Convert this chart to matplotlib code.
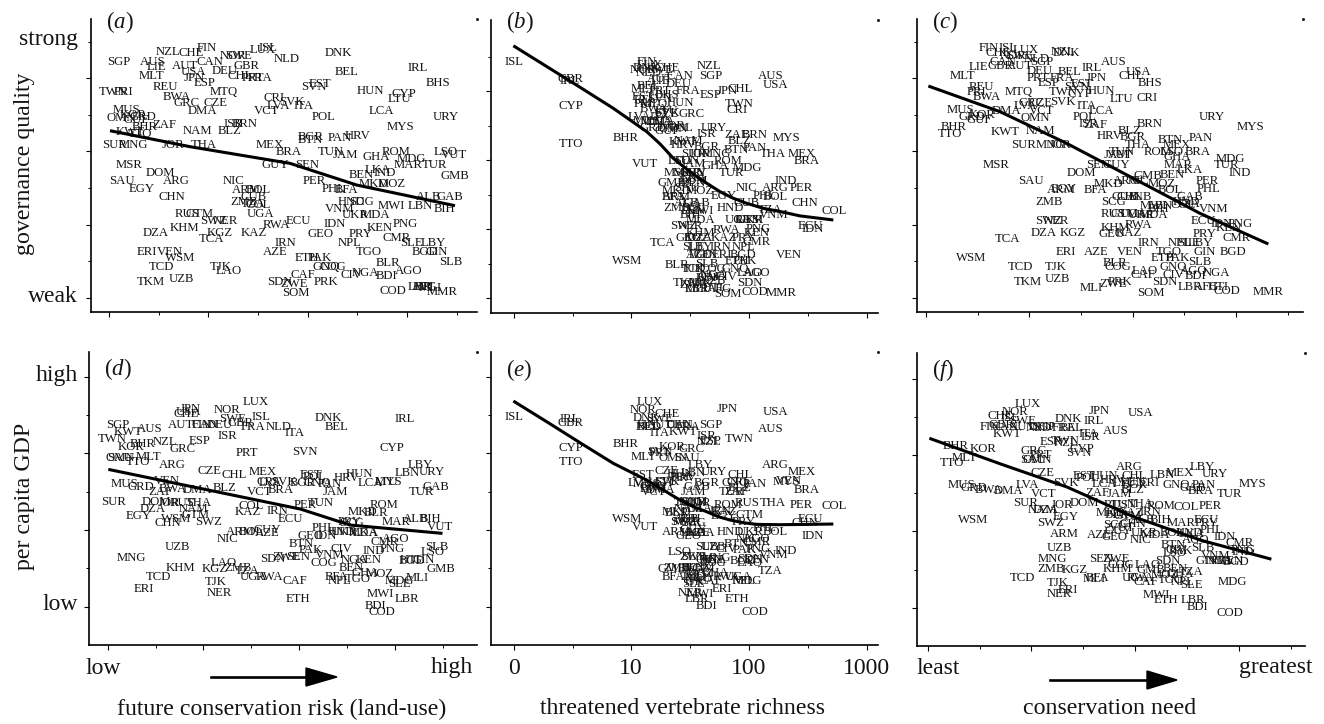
import numpy as np
import matplotlib
matplotlib.use('Agg')
import matplotlib.pyplot as plt
from matplotlib.patches import Polygon

plt.rcParams['font.family'] = ['Liberation Serif', 'DejaVu Serif']
plt.rcParams['mathtext.fontset'] = 'custom'
plt.rcParams['mathtext.rm'] = 'Liberation Serif'
plt.rcParams['mathtext.it'] = 'Liberation Serif:italic'

na = np.nan

# indices; all in arbitrary scale units, one row per country group
iso = ['SGP', 'AUS', 'NZL', 'CHE', 'FIN', 'ISL', 'LUX', 'NOR', 'SWE', 'GBR',
       'NLD', 'DNK', 'CAN', 'AUT', 'LIE', 'MLT', 'USA', 'DEU', 'CHL', 'PRT',
       'FRA', 'JPN', 'ESP', 'BEL', 'IRL', 'BHS', 'EST', 'SVN', 'HUN', 'CYP',
       'LTU', 'TWN', 'PRI', 'REU', 'BWA', 'MTQ', 'GRC', 'CZE', 'DMA', 'CRI',
       'SVK', 'LVA', 'ITA', 'VCT', 'POL', 'LCA', 'URY', 'MYS', 'MUS', 'OMN',
       'GRD', 'KOR', 'GUF', 'ZAF', 'BHR', 'KWT', 'TTO', 'NAM', 'BLZ', 'ISR',
       'BRN', 'PAN', 'BGR', 'BTN', 'HRV', 'SUR', 'MNG', 'JOR', 'THA', 'MEX',
       'BRA', 'TUN', 'JAM', 'GHA', 'ROM', 'LSO', 'VUT', 'MDG', 'MAR', 'TUR',
       'MSR', 'DOM', 'SAU', 'ARG', 'EGY', 'CHN', 'NIC', 'GUY', 'SEN', 'MKD',
       'MOZ', 'LKA', 'IND', 'BEN', 'GMB', 'PER', 'PHL', 'BFA', 'ALB', 'GAB',
       'BIH', 'LBN', 'MWI', 'HND', 'COL', 'SCG', 'ARM', 'BOL', 'ZMB', 'CUB',
       'UGA', 'VNM', 'UKR', 'MDA', 'ECU', 'RWA', 'KAZ', 'IDN', 'PNG', 'KEN',
       'PRY', 'GEO', 'CMR', 'TCA', 'KGZ', 'KHM', 'DZA', 'GTM', 'RUS', 'SWZ',
       'NER', 'IRN', 'NPL', 'TGO', 'SLE', 'LBY', 'BGD', 'GIN', 'AZE', 'ETH',
       'PAK', 'GNQ', 'COG', 'CIV', 'NGA', 'CAF', 'BLR', 'AGO', 'BDI', 'SLB',
       'SDN', 'ZWE', 'PRK', 'SOM', 'COD', 'LBR', 'HTI', 'MLI', 'AFG', 'MMR',
       'ERI', 'VEN', 'WSM', 'TCD', 'TJK', 'LAO', 'TKM', 'UZB', 'TZA']

risk = [30, 131, 178, 246, 293, 478, 461, 373, 388, 413,
        533, 689, 303, 228, 141, 128, 253, 348, 393, 433,
        453, 256, 286, 713, 926, 988, 633, 615, 785, 885,
        870, 13, 43, 169, 203, 343, 233, 318, 279, 495,
        548, 508, 583, 473, 645, 818, 1011, 875, 53, 38,
        103, 73, 83, 165, 108, 63, 93, 266, 363, 373,
        408, 691, 606, 603, 745, 18, 73, 191, 285, 483,
        538, 665, 708, 801, 861, 1011, 1035, 908, 898, 978,
        61, 153, 38, 201, 97, 188, 373, 498, 593, 793,
        848, 805, 828, 758, 1038, 615, 673, 713, 958, 1023,
        1005, 933, 848, 728, 448, 758, 413, 448, 406, 433,
        455, 693, 738, 798, 568, 503, 435, 678, 888, 813,
        755, 633, 863, 308, 333, 226, 141, 273, 233, 313,
        348, 528, 723, 778, 908, 973, 948, 983, 498, 593,
        633, 653, 673, 728, 768, 583, 836, 898, 833, 1025,
        513, 555, 651, 561, 853, 933, 943, 963, 948, 1000,
        113, 183, 213, 158, 336, 360, 125, 218, 433]

richness = [592, 772, 586, 459, 399, 2, 409, 389, 439, 169,
            404, 399, 499, 439, 439, 389, 786, 494, 679, 439,
            524, 641, 592, 404, 169, 459, 389, 439, 499, 171,
            459, 677, 389, 399, 419, 419, 534, 459, 439, 669,
            459, 377, 439, 419, 504, 439, 599, 817, 399, 479,
            419, 474, 459, 669, 337, 509, 171, 524, 679, 579,
            724, 724, 579, 669, 509, 539, 609, 559, 779, 864,
            879, 519, 539, 604, 644, 499, 394, 702, 519, 654,
            489, 539, 519, 784, 629, 874, 699, 539, 539, 489,
            559, 539, 817, 539, 474, 864, 754, 479, 519, 549,
            529, 539, 559, 651, 961, 539, 489, 784, 489, 699,
            674, 779, 709, 559, 889, 639, 629, 896, 734, 729,
            689, 524, 729, 447, 549, 559, 559, 709, 700, 509,
            529, 619, 689, 559, 539, 559, 689, 579, 554, 669,
            694, 664, 599, 639, 599, 589, 489, 729, 579, 579,
            709, 539, 559, 644, 724, 549, 599, 549, 619, 804,
            626, 826, 339, 539, 539, 709, 519, 599, 769]

need = [347, 562, 412, 217, 187, 247, 300, 262, 282, 222,
        332, 420, 232, 282, 157, 110, 637, 342, 617, 337,
        407, 512, 367, 430, 497, 672, 467, 452, 527, 462,
        587, 412, 150, 167, 182, 277, 317, 342, 242, 662,
        412, 297, 482, 347, 477, 527, 857, 972, 102, 327,
        137, 167, 160, 507, 84, 237, 72, 342, 612, 487,
        672, 825, 619, 734, 552, 292, 372, 402, 637, 752,
        815, 587, 572, 754, 697, 737, 582, 912, 757, 902,
        210, 467, 315, 602, 412, 612, 637, 570, 517, 547,
        707, 790, 942, 740, 667, 845, 847, 507, 642, 792,
        697, 702, 682, 782, 772, 562, 407, 732, 370, 597,
        622, 862, 647, 682, 832, 637, 607, 887, 942, 907,
        835, 557, 932, 245, 440, 567, 354, 597, 562, 367,
        392, 667, 762, 727, 787, 822, 922, 835, 512, 712,
        757, 742, 577, 742, 872, 652, 567, 802, 807, 822,
        717, 562, 582, 675, 902, 792, 877, 497, 842, 1027,
        420, 612, 137, 282, 389, 657, 305, 394, 787]

governance = [710, 710, 740, 735, 752, 752, 745, 727, 727, 698,
              718, 735, 710, 698, 693, 668, 680, 683, 667, 660,
              660, 660, 647, 678, 692, 647, 642, 635, 622, 612,
              599, 620, 620, 633, 605, 620, 587, 587, 562, 600,
              590, 577, 577, 563, 543, 563, 543, 513, 565, 540,
              543, 550, 535, 520, 513, 498, 492, 503, 503, 523,
              522, 480, 483, 475, 488, 460, 460, 460, 460, 460,
              440, 440, 430, 423, 440, 440, 429, 417, 400, 400,
              400, 375, 353, 353, 327, 305, 353, 400, 400, 343,
              342, 385, 375, 370, 368, 353, 327, 325, 305, 305,
              267, 278, 278, 290, 280, 290, 325, 325, 290, 305,
              252, 267, 250, 250, 233, 220, 195, 223, 222, 210,
              193, 193, 180, 177, 195, 210, 195, 252, 252, 232,
              232, 165, 165, 140, 165, 165, 140, 140, 140, 120,
              120, 95, 95, 70, 75, 70, 107, 83, 68, 110,
              50, 43, 50, 15, 23, 33, 35, 30, 33, 20,
              140, 140, 120, 95, 95, 83, 50, 58, 283]

gdp = [545, 533, 495, 578, 545, 570, 613, 590, 563, 550,
       540, 567, 545, 545, na, 450, 585, 545, 395, 460,
       540, 593, 498, 540, 562, na, 395, 465, 397, 477,
       375, 503, na, na, 353, na, 473, 407, 350, 375,
       375, 370, 522, 343, 390, 372, 403, 373, 368, 445,
       360, 478, na, 345, 488, 523, 435, 293, 355, 513,
       na, 368, 370, 188, 385, 315, 147, 310, 312, 405,
       350, 310, 343, 100, 305, 165, 240, 77, 255, 343,
       na, 315, 445, 425, 273, 252, 203, 230, 148, 285,
       97, 222, 167, 115, 114, 305, 235, 88, 263, 360,
       263, 400, 37, 225, 302, 250, 223, 225, 115, na,
       88, 155, 225, 220, 263, 88, 285, 213, 173, 140,
       255, 213, 195, na, 113, 117, 293, 275, 310, 255,
       40, 287, 77, 82, 67, 425, 137, 140, 220, 22,
       170, 370, 130, 173, 140, 77, 280, 203, 3, 180,
       142, 148, na, na, -17, 22, 140, 85, na, na,
       52, 378, 263, 90, 75, 130, na, 180, 108]

# fitted curves, (x, y) knots
curve_a_x = [3, 243, 543, 743, 1038]
curve_a_y = [503, 455, 405, 340, 278]
curve_b_x = [-1, 99, 199, 299, 349, 399, 439, 479, 509, 549, 579, 619, 659, 699, 749, 799, 859, 959]
curve_b_y = [805, 739, 673, 606, 569, 532, 493, 447, 421, 389, 368, 341, 320, 304, 288, 278, 264, 251]
curve_c_x = [7, 222, 422, 622, 822, 1027]
curve_c_y = [637, 560, 465, 360, 255, 163]
curve_d_x = [2, 288, 600, 755, 1043]
curve_d_y = [412, 355, 293, 245, 220]
curve_e_x = [-1, 99, 199, 299, 399, 499, 539, 579, 614, 649, 689, 729, 799, 959]
curve_e_y = [617, 555, 492, 430, 380, 320, 300, 285, 270, 260, 252, 247, 246, 248]
curve_f_x = [5, 217, 417, 617, 817, 1027]
curve_f_y = [510, 433, 363, 273, 203, 146]

fig = plt.figure(figsize=(13.24, 7.24), dpi=100)
W, H = 1324.0, 724.0
ink = '#141414'

RISK_STEP, RICH_STEP, NEED_STEP = 149.0, 176.5, 155.0
GOV_STEP, GDP_STEP, GOV_BASE = 109.7, 115.0, 2.0


def panel(box, xs, ys, cx, cy, letter, letter_dy, x0, xstep, xstep_px, y0, ybase, ystep, ystep_px, n_y):
    left, right, top, bottom = box
    ax = fig.add_axes([left / W, 1 - bottom / H, (right - left) / W, (bottom - top) / H])
    xs = np.array(xs, dtype=float)
    ys = np.array(ys, dtype=float)
    for name, x, y in zip(iso, xs, ys):
        if np.isnan(x) or np.isnan(y):
            continue
        ax.text(x, y, name, fontsize=9.2, ha='center', va='center', color=ink)
    ax.plot(cx, cy, color='black', lw=2.2, solid_capstyle='butt', solid_joinstyle='round', zorder=5)
    for s in ['top', 'right']:
        ax.spines[s].set_visible(False)
    for s in ['left', 'bottom']:
        ax.spines[s].set_linewidth(1.2)
    ax.set_xticks([xstep * k for k in range(0, 8, 2)])
    ax.set_xticks([xstep * k for k in range(1, 8, 2)], minor=True)
    yt = [ybase + ystep * k for k in range(n_y)]
    ax.set_yticks(yt[0::2])
    ax.set_yticks(yt[1::2], minor=True)
    # limits go last, set_xticks widens them otherwise
    ax.set_xlim((left - x0) * xstep / xstep_px, (right - x0) * xstep / xstep_px)
    ax.set_ylim(ybase + (y0 - bottom) * ystep / ystep_px, ybase + (y0 - top) * ystep / ystep_px)
    ax.tick_params(which='major', length=3.6, width=0.8, labelbottom=False, labelleft=False)
    ax.tick_params(which='minor', length=2.0, width=0.7)
    ax.plot([1], [1], transform=ax.transAxes, marker='s', ms=1, color=ink, clip_on=False)
    fig.text((left + 15) / W, 1 - (top + letter_dy) / H, '(' + '$\\mathit{' + letter + '}$' + ')',
             fontsize=16.5, ha='left', va='center', color=ink)
    return ax


panel((91, 477, 19, 312), risk, governance, curve_a_x, curve_a_y, 'a', 3,
      109, RISK_STEP, 49.67, 297.7, GOV_BASE, GOV_STEP, 36.57, 8)
panel((491, 878, 20, 312.7), richness, governance, curve_b_x, curve_b_y, 'b', 2,
      513.7, RICH_STEP, 58.83, 298.3, GOV_BASE, GOV_STEP, 34.5, 8)
panel((916.7, 1303, 19, 312), need, governance, curve_c_x, curve_c_y, 'c', 3,
      926, NEED_STEP, 51.67, 297.7, GOV_BASE, GOV_STEP, 36.57, 8)
panel((89, 477, 352, 644.5), risk, gdp, curve_d_x, curve_d_y, 'd', 17,
      107.7, RISK_STEP, 47.83, 606.7, 0, GDP_STEP, 38.33, 7)
panel((491, 878, 352, 644.5), richness, gdp, curve_e_x, curve_e_y, 'e', 18,
      513.7, RICH_STEP, 58.83, 606.7, 0, GDP_STEP, 38.33, 7)
panel((917, 1305, 353, 646), need, gdp, curve_f_x, curve_f_y, 'f', 17,
      927.7, NEED_STEP, 51.87, 607.7, 0, GDP_STEP, 38.2, 7)


def label(px, py, s, size=17, ha='center', rotation=0):
    fig.text(px / W, 1 - py / H, s, fontsize=size, ha=ha, va='center', rotation=rotation, color=ink)


label(78, 40, 'strong', ha='right')
label(78, 296, 'weak', ha='right')
label(78, 375, 'high', ha='right')
label(78, 604, 'low', ha='right')
label(25, 164, 'governance quality', size=17.2, rotation=90)
label(25, 496, 'per capita GDP', size=17.2, rotation=90)

label(103, 668, 'low')
label(452, 668, 'high')
for px, s in zip([513.7, 631, 748.7, 866], ['0', '10', '100', '1000']):
    label(px, 668, s)
label(938, 668, 'least')
label(1276, 668, 'greatest')

label(282, 709, 'future conservation risk (land-use)', size=17.2)
label(683, 709, 'threatened vertebrate richness', size=17.2)
label(1110, 709, 'conservation need', size=17.2)


def arrow(x1, x2, xhead, y):
    fig.add_artist(plt.Line2D([x1 / W, xhead / W], [1 - y / H, 1 - y / H], color='black', lw=1.9))
    fig.add_artist(Polygon([[xhead / W, 1 - (y - 9) / H], [x2 / W, 1 - y / H], [xhead / W, 1 - (y + 9) / H]],
                           closed=True, color='black', transform=fig.transFigure))


arrow(211, 337, 306, 677)
arrow(1050, 1177, 1147, 680)

fig.savefig('out.png', dpi=100)
